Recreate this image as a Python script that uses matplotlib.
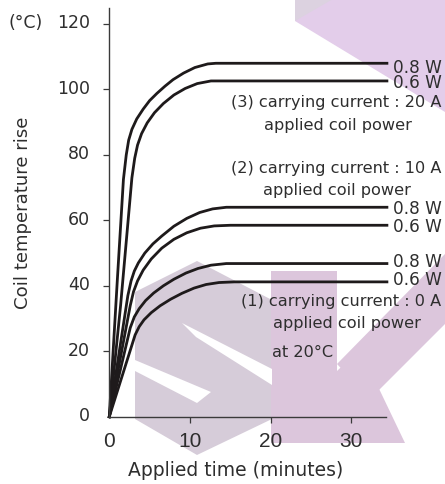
import matplotlib.pyplot as plt
import matplotlib.transforms as mtransforms
from matplotlib.patches import Polygon

# applied time (minutes) vs coil temperature rise (°C)
# (3) carrying current 20 A
t_20a_08 = [0, 1.0, 1.75, 2.1, 2.4, 2.8, 3.4, 4.2, 5.0, 5.9, 6.9, 7.9, 9.2, 10.6, 12.2, 13.2, 34.4]
T_20a_08 = [0, 42, 72.5, 80, 84.5, 87.8, 91, 94, 96.6, 98.8, 101, 103, 105, 106.7, 107.8, 108, 108]
t_20a_06 = [0, 1.4, 2.8, 3.15, 3.5, 4.0, 4.7, 5.6, 6.7, 8.0, 9.4, 10.9, 12.6, 34.4]
T_20a_06 = [0, 34, 73, 79, 83, 86.5, 89.8, 92.9, 95.7, 98.3, 100.3, 101.8, 102.6, 102.6]
# (2) carrying current 10 A
t_10a_08 = [0, 2.3, 2.7, 3.1, 3.6, 4.4, 5.4, 6.5, 8.0, 9.6, 11.2, 12.8, 14.5, 34.4]
T_10a_08 = [0, 37, 41.5, 44.5, 47, 50, 52.8, 55.2, 58.2, 60.6, 62.4, 63.5, 64, 64]
t_10a_06 = [0, 2.6, 3.0, 3.5, 4.2, 5.2, 6.5, 8.0, 9.6, 11.3, 13.0, 15.0, 34.4]
T_10a_06 = [0, 34, 38.2, 41.5, 44.8, 48.2, 51.5, 54.2, 56.2, 57.6, 58.3, 58.5, 58.5]
# (1) carrying current 0 A
t_0a_08 = [0, 2.6, 3.1, 3.7, 4.5, 5.5, 6.7, 8.0, 9.5, 11.0, 12.6, 14.5, 34.4]
T_0a_08 = [0, 27.2, 30.5, 33, 35.5, 37.8, 40, 42, 43.9, 45.3, 46.3, 46.8, 46.8]
t_0a_06 = [0, 3.2, 3.7, 4.3, 5.2, 6.3, 7.6, 9.0, 10.5, 12.0, 13.6, 15.5, 34.4]
T_0a_06 = [0, 25, 27.5, 29.6, 31.8, 33.9, 35.9, 37.7, 39.3, 40.4, 41, 41.2, 41.2]

curves = [(t_20a_08, T_20a_08), (t_20a_06, T_20a_06),
          (t_10a_08, T_10a_08), (t_10a_06, T_10a_06),
          (t_0a_08, T_0a_08), (t_0a_06, T_0a_06)]
power_labels = ['0.8 W', '0.6 W', '0.8 W', '0.6 W', '0.8 W', '0.6 W']
label_drop = [2.7, 1.7, 1.7, 1.9, 0.6, 0.8]  # baseline sits a bit under the line

x_ticks = [0, 10, 20, 30]
y_ticks = [0, 20, 40, 60, 80, 100, 120]

W, H = 445, 485
fig = plt.figure(figsize=(W / 100, H / 100), dpi=100)
ax = fig.add_axes([109.3 / W, 1 - 417.7 / H, 276.4 / W, 408.4 / H])
ax.patch.set_alpha(0)


def px(pts):
    return [(x / W, 1 - y / H) for x, y in pts]


# faint logo shapes in the background
bg = [
    ([(295, 0), (445, 0), (445, 113), (295, 22)], '#e3cdea'),
    ([(295, 0), (333, 0), (295, 22)], '#dcd2e0'),
    ([(135, 293), (197, 262), (272, 301), (272, 420), (197, 456), (135, 420)], '#d6ccd9'),
    ([(271, 272), (337, 272), (337, 444), (271, 444)], '#dcc6dc'),
    ([(337, 365), (445, 255), (445, 325), (370, 400)], '#dcc6dc'),
    ([(337, 372), (360, 350), (405, 444), (337, 444)], '#dcc6dc'),
]
for pts, c in bg:
    fig.add_artist(Polygon(px(pts), closed=True, transform=fig.transFigure,
                           facecolor=c, edgecolor='none', zorder=-5))
cuts = [
    [(182, 324), (272, 370), (272, 386), (196, 338)],
    [(135, 361), (135, 372), (197, 404), (211, 393)],
]
for pts in cuts:
    fig.add_artist(Polygon(px(pts), closed=True, transform=fig.transFigure,
                           facecolor='white', edgecolor='none', zorder=-4))

line_c = '#1e1a1b'
text_c = '#2e2e2e'
for (t, T), lab, d in zip(curves, power_labels, label_drop):
    ax.plot(t, T, color=line_c, lw=2.0, clip_on=False, solid_joinstyle='round')
    ax.text(35.2, T[-1] - d, lab, fontsize=12.2, color=text_c,
            ha='left', va='baseline')

ax.text(28.1, 94.9, '(3) carrying current : 20 A', fontsize=11.6, color=text_c, ha='center', va='baseline')
ax.text(28.3, 88.0, 'applied coil power', fontsize=11.6, color=text_c, ha='center', va='baseline')
ax.text(28.1, 74.7, '(2) carrying current : 10 A', fontsize=11.6, color=text_c, ha='center', va='baseline')
ax.text(28.2, 68.1, 'applied coil power', fontsize=11.6, color=text_c, ha='center', va='baseline')
ax.text(28.7, 34.1, '(1) carrying current : 0 A', fontsize=11.6, color=text_c, ha='center', va='baseline')
ax.text(29.5, 27.3, 'applied coil power', fontsize=11.6, color=text_c, ha='center', va='baseline')
ax.text(20.1, 18.5, 'at 20°C', fontsize=11.6, color=text_c, ha='left', va='baseline')

ax.set_xlim(0, 34.25)
ax.set_ylim(0, 124.8)
for s in ['top', 'right']:
    ax.spines[s].set_visible(False)
for s in ['left', 'bottom']:
    ax.spines[s].set_color('#3a3a3a')
    ax.spines[s].set_linewidth(1.0)

ax.set_xticks(x_ticks)
ax.set_yticks(y_ticks)
ax.tick_params(axis='both', direction='out', length=4.5, width=0.9, color='#3a3a3a')
ax.tick_params(axis='y', pad=9.5)
ax.tick_params(axis='x', pad=5.5)
ax.xaxis.get_major_ticks()[0].tick1line.set_visible(False)
ax.yaxis.get_major_ticks()[0].tick1line.set_visible(False)

# y tick numbers sit slightly above their ticks
lift = mtransforms.ScaledTranslation(0, 2.6 / 72, fig.dpi_scale_trans)
for lbl in ax.get_yticklabels():
    lbl.set_fontsize(12.5)
    lbl.set_color(text_c)
    lbl.set_transform(lbl.get_transform() + lift)
for lbl in ax.get_xticklabels():
    lbl.set_fontfamily('Liberation Sans')
    lbl.set_fontsize(15)
    lbl.set_color(text_c)

ax.set_xlabel('Applied time (minutes)', fontsize=13.5, color=text_c)
ax.xaxis.set_label_coords((236 - 109.3) / 276.4, -(470 - 417.7) / 408.4)
ax.xaxis.label.set_va('center')
ax.set_ylabel('Coil temperature rise', fontsize=13.1, color=text_c)
ax.yaxis.set_label_coords((23 - 109.3) / 276.4, (417.7 - 213) / 408.4)
ax.yaxis.label.set_va('center')
ax.text(-12.55, 120, '(°C)', fontsize=12.5, color=text_c, ha='left', va='center_baseline',
        transform=ax.transData + lift)

fig.savefig('out.png', dpi=100)
